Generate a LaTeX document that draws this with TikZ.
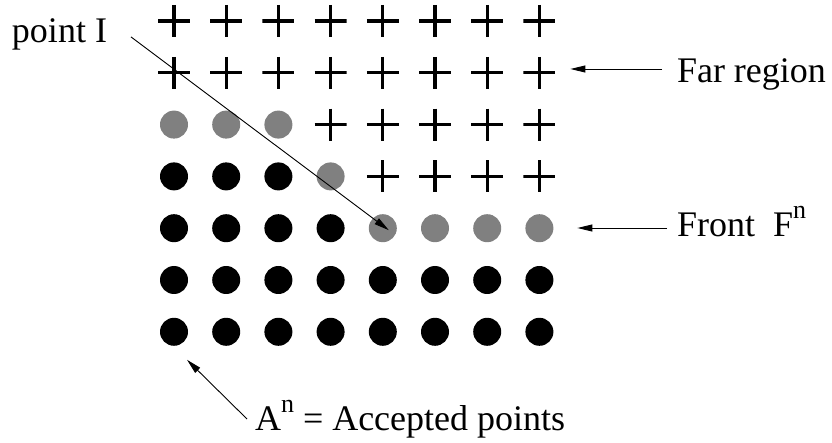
\documentclass[tikz,border=0pt]{standalone}
\usepackage{fontspec}
\setmainfont{Liberation Serif}
\usetikzlibrary{arrows.meta}

\begin{document}
\begin{tikzpicture}[
x=1pt, y=-1pt,
every node/.style = {inner sep=0pt, outer sep=0pt},
accpt/.style = {circle, fill=black, minimum size=28pt},
frontpt/.style = {circle, fill=gray, minimum size=28pt},
farpt/.style = {rectangle, minimum size=32pt, path picture={
    \draw[line width=3.3pt] (path picture bounding box.north) -- (path picture bounding box.south)
         (path picture bounding box.west) -- (path picture bounding box.east);}},
lbl/.style = {anchor=base west, font=\fontsize{36}{40}\selectfont},
tip/.style = {-{Triangle[length=15pt,width=7pt]}, line width=0.9pt},
]
  \useasboundingbox (0,0) rectangle (832,443);
  % the grid, one list of kinds per row
  \foreach \kinds [count=\row from 0] in {
      {farpt,farpt,farpt,farpt,farpt,farpt,farpt,farpt},
      {farpt,farpt,farpt,farpt,farpt,farpt,farpt,farpt},
      {frontpt,frontpt,frontpt,farpt,farpt,farpt,farpt,farpt},
      {accpt,accpt,accpt,frontpt,farpt,farpt,farpt,farpt},
      {accpt,accpt,accpt,accpt,frontpt,frontpt,frontpt,frontpt},
      {accpt,accpt,accpt,accpt,accpt,accpt,accpt,accpt},
      {accpt,accpt,accpt,accpt,accpt,accpt,accpt,accpt}}
    \foreach \kind [count=\col from 0] in \kinds
      \node[\kind] (p-\row-\col) at (174+52.2*\col, 21+51.8*\row) {};

  % labels
  \node[lbl] (pointI) at (12,43) {point I};
  \node[lbl] (far) at (677,83) {Far region};
  \node[lbl] (front) at (677,237) {Front\ \ F\raisebox{0.5em}{\fontsize{26}{26}\selectfont n}};
  \node[lbl] (accepted) at (255,430) {A\raisebox{0.5em}{\fontsize{26}{26}\selectfont n} = Accepted points};

  % arrows
  \draw[tip] ([shift={(24,2)}]pointI.east) -- ([shift={(6,2)}]p-4-4.center);
  \draw[tip, shorten >=15pt] ([shift={(-15,-14)}]far.base west) coordinate (far-s) -- (far-s -| p-1-7.east);
  \draw[tip, shorten >=24pt] ([shift={(-10,-9)}]front.base west) coordinate (front-s) -- (front-s -| p-4-7.east);
  \draw[tip] ([shift={(-8,-11)}]accepted.base west) -- ([shift={(13,28)}]p-6-0.center);
\end{tikzpicture}
\end{document}
